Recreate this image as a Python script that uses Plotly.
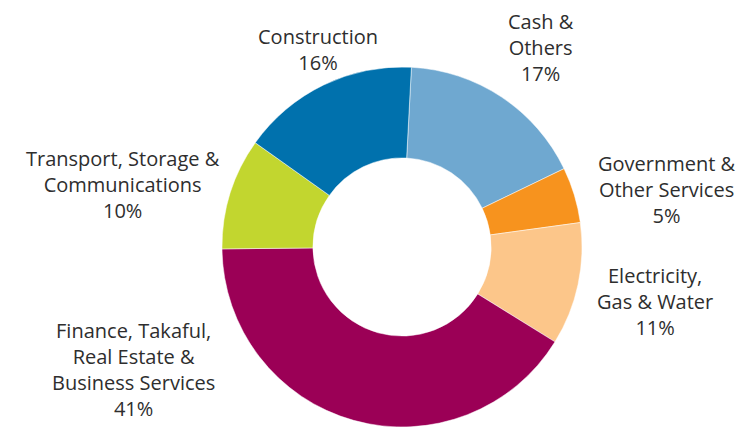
import plotly.graph_objects as go

sectors = ["Cash & Others", "Government & Other Services", "Electricity, Gas & Water",
           "Finance, Takaful, Real Estate & Business Services",
           "Transport, Storage & Communications", "Construction"]
shares = [17, 5, 11, 41, 10, 16]
colors = ["#6fa8d0", "#f7931e", "#fcc68a", "#9b0056", "#c2d62f", "#0071ad"]

# label text (multi-line) and placement in pixels (center x, center y)
label_lines = [
    "Cash &<br>Others<br>17%",
    "Government &<br>Other Services<br>5%",
    "Electricity,<br>Gas & Water<br>11%",
    "Finance, Takaful,<br>Real Estate &<br>Business Services<br>41%",
    "Transport, Storage &<br>Communications<br>10%",
    "Construction<br>16%",
]
label_pos = [(541, 47), (667, 189), (655, 301), (133, 369), (123, 184), (318, 49)]

W, H = 737, 427

fig = go.Figure(go.Pie(
    labels=sectors,
    values=shares,
    sort=False,
    direction="clockwise",
    rotation=3,
    hole=0.495,
    marker=dict(colors=colors, line=dict(color="white", width=0.5)),
    textinfo="none",
    hoverinfo="label+percent",
    domain=dict(x=[222 / W, 582 / W], y=[0, 1 - 67 / H]),
    showlegend=False,
))

annotations = []
for txt, (px, py) in zip(label_lines, label_pos):
    annotations.append(dict(
        x=px / W, y=1 - py / H, xref="paper", yref="paper",
        text=txt, showarrow=False, xanchor="center", yanchor="middle",
        align="center", font=dict(family="Open Sans", size=20, color="#2e2e2e"),
    ))

fig.update_layout(
    width=W, height=H,
    margin=dict(l=0, r=0, t=0, b=0),
    paper_bgcolor="white", plot_bgcolor="white",
    annotations=annotations,
)

fig.write_html("out.html", config={"displayModeBar": False},
               post_script="document.body.style.margin='0';document.body.style.overflow='hidden';")
